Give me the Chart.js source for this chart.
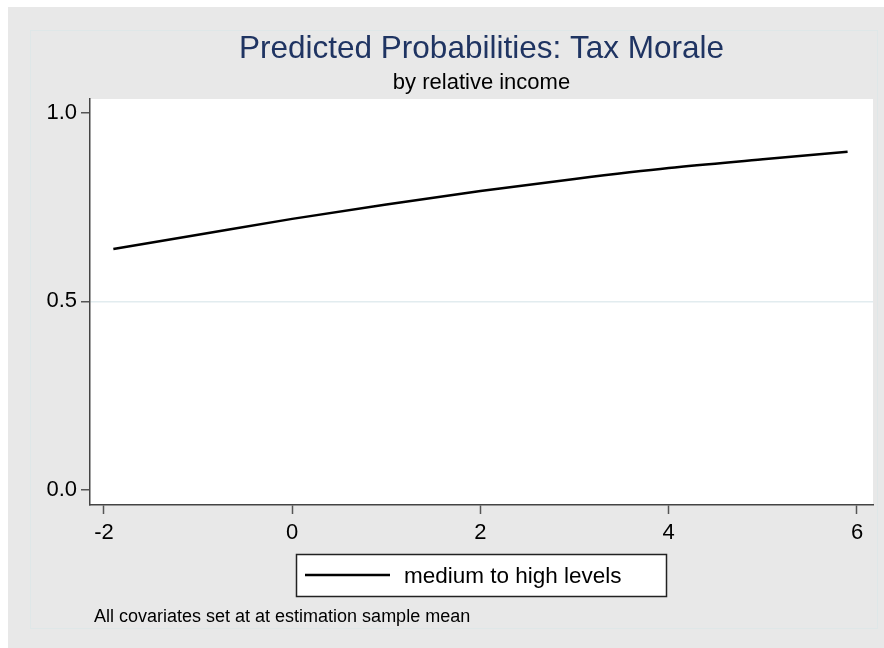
<!DOCTYPE html>
<html>
<head>
<meta charset="utf-8">
<title>Predicted Probabilities: Tax Morale</title>
<script src="https://cdn.jsdelivr.net/npm/chart.js@4"></script>
<style>
  html, body { margin: 0; padding: 0; background: #ffffff; }
  canvas { display: block; }
</style>
</head>
<body>
<canvas id="chart" width="884" height="648"></canvas>
<script>
// Predicted probability of tax morale (medium to high) by relative income
const relIncome = [-1.9, -1, 0, 1, 2, 3, 4, 5, 5.9];
const probMedHigh = [0.639, 0.677, 0.719, 0.757, 0.793, 0.825, 0.854, 0.877, 0.897];
const xTicks = [-2, 0, 2, 4, 6];
const yTicks = [0, 0.5, 1];
const seriesLabel = 'medium to high levels';
const titleText = 'Predicted Probabilities: Tax Morale';
const subtitleText = 'by relative income';
const noteText = 'All covariates set at at estimation sample mean';

const FONT = '"Liberation Sans", Arial, Helvetica, sans-serif';

// Stata-like background, title, legend box and note
const stataFrame = {
    id: 'stataFrame',
    beforeDraw(chart) {
        const ctx = chart.ctx;
        const a = chart.chartArea;
        ctx.save();
        ctx.fillStyle = '#ffffff';
        ctx.fillRect(0, 0, chart.width, chart.height);
        ctx.fillStyle = '#e8e8e8';
        ctx.fillRect(8, 7, chart.width - 8, chart.height - 7);
        ctx.strokeStyle = '#dfe7e8';
        ctx.lineWidth = 1;
        ctx.strokeRect(30.5, 30.5, 847, 598);
        ctx.fillStyle = '#ffffff';
        ctx.fillRect(a.left, a.top, a.right - a.left, a.bottom - a.top);
        ctx.restore();
    },
    afterDraw(chart) {
        const ctx = chart.ctx;
        const a = chart.chartArea;
        const cx = (a.left + a.right) / 2;
        ctx.save();
        ctx.textAlign = 'center';
        ctx.textBaseline = 'alphabetic';
        ctx.fillStyle = '#1f3462';
        ctx.font = '31.5px ' + FONT;
        ctx.fillText(titleText, cx, 58);
        ctx.fillStyle = '#000000';
        ctx.font = '22px ' + FONT;
        ctx.fillText(subtitleText, cx, 89);

        // legend
        ctx.fillStyle = '#ffffff';
        ctx.fillRect(296, 554, 370, 42);
        ctx.strokeStyle = '#222222';
        ctx.lineWidth = 1.5;
        ctx.strokeRect(296.5, 554.5, 370, 42);
        const ds = chart.data.datasets[0];
        ctx.strokeStyle = ds.borderColor;
        ctx.lineWidth = ds.borderWidth;
        ctx.beginPath();
        ctx.moveTo(305, 575);
        ctx.lineTo(390, 575);
        ctx.stroke();
        ctx.fillStyle = '#000000';
        ctx.textAlign = 'left';
        ctx.font = '22.5px ' + FONT;
        ctx.fillText(ds.label, 404, 583);

        // note
        ctx.font = '18px ' + FONT;
        ctx.fillText(noteText, 94, 622);
        ctx.restore();
    }
};

new Chart(document.getElementById('chart'), {
    type: 'line',
    data: {
        datasets: [{
            label: seriesLabel,
            data: relIncome.map((x, i) => ({ x: x, y: probMedHigh[i] })),
            borderColor: '#000000',
            borderWidth: 2.5,
            pointRadius: 0,
            fill: false,
            cubicInterpolationMode: 'monotone'
        }]
    },
    options: {
        responsive: false,
        animation: false,
        layout: { padding: { left: 0, top: 99, right: 11, bottom: 103 } },
        plugins: {
            legend: { display: false },
            title: { display: false },
            tooltip: { enabled: false }
        },
        scales: {
            x: {
                type: 'linear',
                min: -2.148,
                max: 6.17,
                afterFit(scale) { scale.height = 40; },
                afterBuildTicks(scale) { scale.ticks = xTicks.map(v => ({ value: v })); },
                grid: {
                    drawOnChartArea: false,
                    tickLength: 9,
                    tickColor: '#555555',
                    tickWidth: 1.5
                },
                border: { display: true, color: '#444444', width: 1.5 },
                ticks: {
                    color: '#000000',
                    padding: 6,
                    maxRotation: 0,
                    font: { family: FONT, size: 22 },
                    callback: v => String(v)
                }
            },
            y: {
                type: 'linear',
                min: -0.04,
                max: 1.037,
                afterFit(scale) { scale.width = 90; },
                afterBuildTicks(scale) { scale.ticks = yTicks.map(v => ({ value: v })); },
                grid: {
                    color: ctx => (ctx.tick && ctx.tick.value === 0.5) ? '#e2ecef' : 'rgba(0,0,0,0)',
                    lineWidth: 1.5,
                    tickLength: 9,
                    tickColor: '#555555',
                    tickWidth: 1.5
                },
                border: { display: true, color: '#444444', width: 1.5 },
                ticks: {
                    color: '#000000',
                    padding: 4,
                    font: { family: FONT, size: 22 },
                    callback: v => Number(v).toFixed(1)
                }
            }
        }
    },
    plugins: [stataFrame]
});
</script>
</body>
</html>
